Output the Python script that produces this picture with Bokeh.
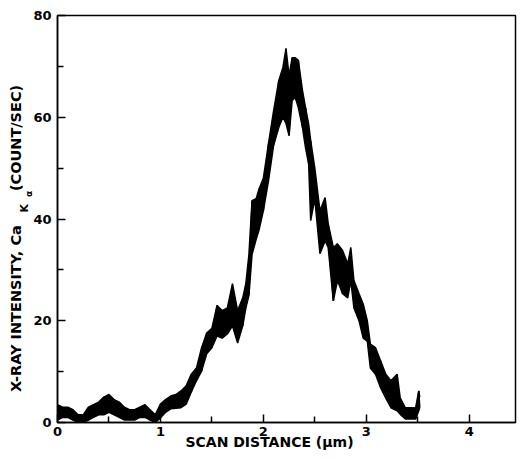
from bokeh.plotting import figure
from bokeh.models import Range1d, FixedTicker, Label
from bokeh.embed import file_html
from bokeh.resources import INLINE

# scan distance (um) and envelope of the noisy X-ray trace (count/sec)
scan_x = [0.00, 0.05, 0.10, 0.15, 0.20, 0.25, 0.30, 0.35, 0.40, 0.45,
          0.50, 0.55, 0.60, 0.65, 0.70, 0.75, 0.80, 0.85, 0.90, 0.95,
          1.00, 1.05, 1.10, 1.15, 1.20, 1.25, 1.30, 1.35, 1.40, 1.45,
          1.50, 1.55, 1.60, 1.65, 1.70, 1.75, 1.80, 1.83, 1.86, 1.89,
          1.93, 1.96, 2.00, 2.05, 2.10, 2.15, 2.19, 2.22, 2.25, 2.28,
          2.31, 2.34, 2.38, 2.41, 2.44, 2.46, 2.50, 2.55, 2.60, 2.63,
          2.68, 2.72, 2.77, 2.82, 2.85, 2.88, 2.93, 2.97, 3.01, 3.04,
          3.09, 3.14, 3.19, 3.24, 3.30, 3.33, 3.38, 3.43, 3.48, 3.51,
          3.52]
count_lo = [0.5, 1.0, 1.0, 0.5, 0.0, 0.0, 0.5, 1.0, 1.5, 1.5,
            2.0, 1.5, 1.0, 0.5, 0.5, 0.5, 1.0, 1.0, 0.5, 0.0,
            0.9, 2.0, 2.7, 2.8, 2.9, 3.6, 6.0, 8.2, 10.1, 13.5,
            14.7, 17.0, 16.6, 17.4, 19.0, 15.6, 19.0, 22.5, 25.0, 33.0,
            36.0, 38.0, 41.6, 47.5, 54.5, 58.0, 60.0, 58.8, 56.4, 63.3,
            63.9, 61.9, 58.0, 54.0, 50.9, 39.7, 44.0, 33.2, 35.7, 34.4,
            23.9, 27.9, 25.3, 24.5, 27.9, 22.5, 20.0, 16.6, 16.0, 10.7,
            9.5, 6.8, 4.8, 2.9, 2.3, 1.6, 0.7, 0.7, 0.7, 2.3,
            3.0]
count_hi = [3.5, 3.0, 3.0, 2.5, 1.5, 1.5, 3.0, 3.5, 4.0, 5.0,
            5.5, 4.5, 4.0, 3.0, 2.5, 2.5, 3.0, 3.5, 2.5, 1.5,
            3.6, 4.5, 5.2, 5.5, 6.2, 7.2, 9.5, 10.7, 14.7, 17.6,
            18.5, 23.0, 22.0, 22.5, 27.3, 22.0, 24.5, 27.3, 33.0, 43.6,
            44.0, 46.0, 48.0, 54.8, 61.3, 67.2, 69.8, 73.5, 68.2, 71.7,
            71.7, 71.2, 65.3, 61.9, 58.7, 55.4, 50.0, 41.6, 44.2, 39.1,
            34.4, 35.1, 33.8, 31.2, 34.4, 27.9, 25.3, 23.3, 20.0, 15.4,
            14.7, 12.1, 9.5, 8.2, 9.5, 4.8, 2.9, 2.9, 2.9, 6.2,
            5.0]

x_ticks = [0, 1, 2, 3, 4]
x_minor = [0.5, 1.5, 2.5, 3.5]
y_ticks = [0, 20, 40, 60, 80]
y_minor = [10, 30, 50, 70]

FONT = "DejaVu Sans"

p = figure(width=522, height=459, output_backend="svg", toolbar_location=None,
           x_range=Range1d(0, 4.45), y_range=Range1d(0, 80))
p.min_border_left = 57
p.min_border_right = 7
p.min_border_top = 15
p.min_border_bottom = 37
p.grid.visible = False
p.outline_line_color = "black"
p.outline_line_width = 1.5
p.background_fill_color = "white"
p.border_fill_color = "white"

for ax, ticks, minor in ((p.xaxis[0], x_ticks, x_minor), (p.yaxis[0], y_ticks, y_minor)):
    ax.ticker = FixedTicker(ticks=ticks, minor_ticks=minor)
    ax.major_tick_in = 8
    ax.major_tick_out = 0
    ax.minor_tick_in = 6
    ax.minor_tick_out = 0
    ax.major_tick_line_width = 1.5
    ax.minor_tick_line_width = 1.5
    ax.axis_line_width = 1.5
    ax.major_label_text_font = FONT
    ax.major_label_text_font_style = "bold"
    ax.major_label_text_font_size = "13px"
    ax.major_label_text_color = "black"
p.yaxis[0].major_label_standoff = 6
p.xaxis[0].major_label_standoff = 4

# trace: filled envelope with jagged edges
p.varea(x=scan_x, y1=count_lo, y2=count_hi, fill_color="black")
zx, zy = [], []
for i, xv in enumerate(scan_x):
    zx.append(xv)
    zy.append(count_lo[i] if i % 2 == 0 else count_hi[i])
p.line(zx, zy, line_color="black", line_width=1.5)
p.line(scan_x, count_lo, line_color="black", line_width=1.5)
p.line(scan_x, count_hi, line_color="black", line_width=1.5)

# axis titles placed in side panels (screen units relative to each panel)
p.add_layout(Label(x=212, y=13, x_units="screen", y_units="screen",
                   text="SCAN DISTANCE (μm)", text_align="center",
                   text_baseline="middle", text_font=FONT, text_font_style="bold",
                   text_font_size="14px", text_color="black"), "below")

p.add_layout(Label(x=1, y=30.5, x_units="screen", y_units="screen",
                   text="X-RAY INTENSITY, Ca\u2003\u2003 (COUNT/SEC)",
                   angle=90, angle_units="deg", text_align="left",
                   text_baseline="middle", text_font=FONT, text_font_style="bold",
                   text_font_size="14.5px", text_color="black"), "left")

# subscript K and alpha (kept in the top panel so the left margin stays as is)
p.add_layout(Label(x=-33, y=-197, x_units="screen", y_units="screen", text="K",
                   angle=90, angle_units="deg", text_align="left",
                   text_baseline="middle", text_font=FONT, text_font_style="bold",
                   text_font_size="11px", text_color="black"), "above")
p.add_layout(Label(x=-28.5, y=-190.5, x_units="screen", y_units="screen", text="α",
                   angle=90, angle_units="deg", text_align="left",
                   text_baseline="middle", text_font=FONT, text_font_style="bold",
                   text_font_size="9px", text_color="black"), "above")

open("out.html", "w").write(file_html(p, INLINE))
